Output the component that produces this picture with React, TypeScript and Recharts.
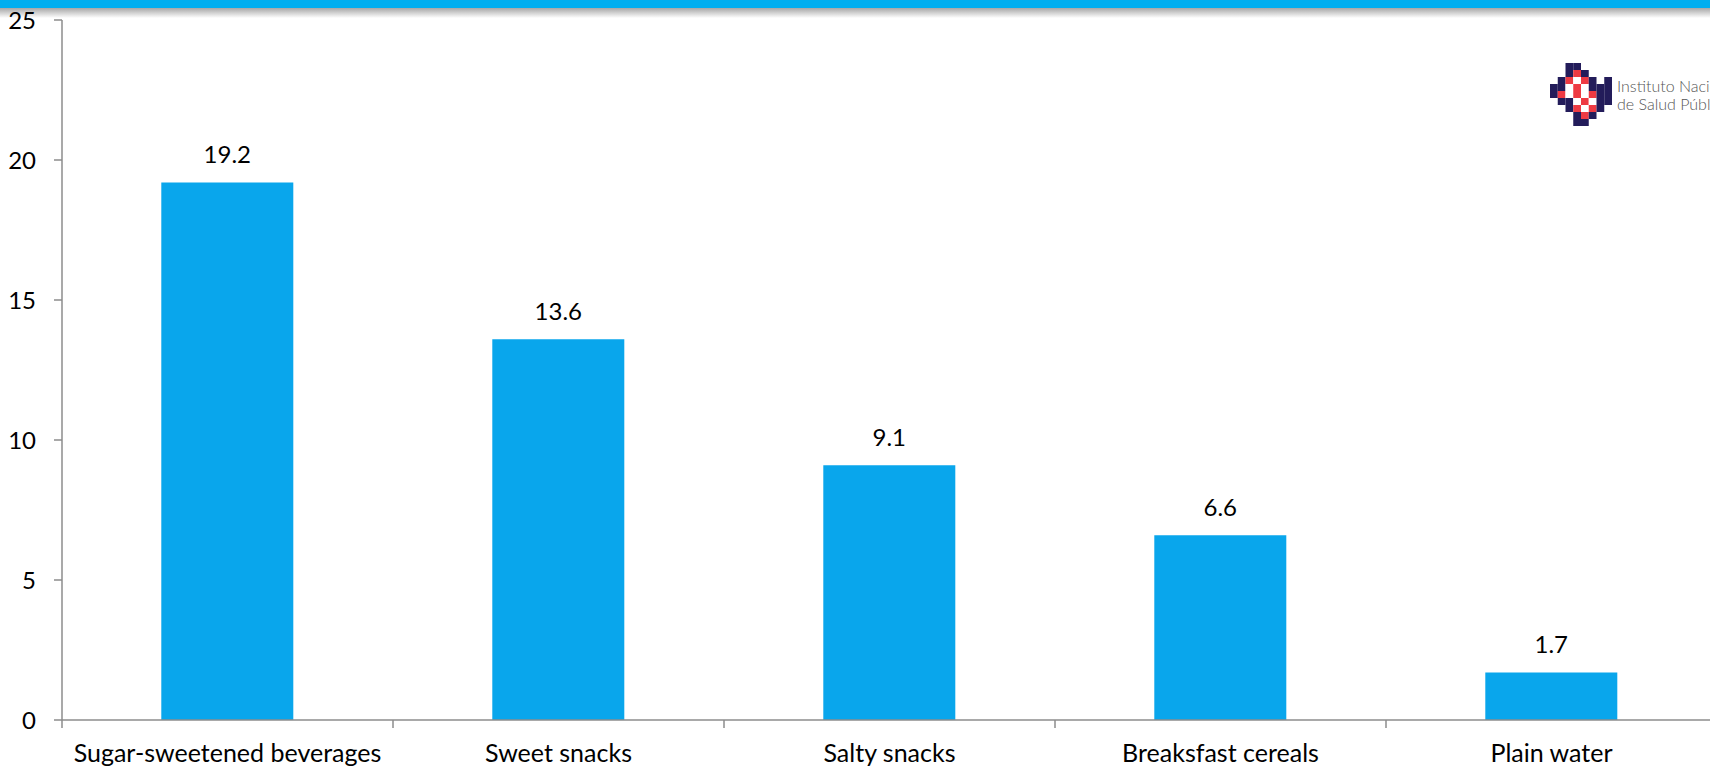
import { BarChart, Bar, XAxis, YAxis, LabelList } from 'recharts';

const categories = ['Sugar-sweetened beverages', 'Sweet snacks', 'Salty snacks', 'Breaksfast cereals', 'Plain water'];
const values = [19.2, 13.6, 9.1, 6.6, 1.7];
const yTicks = [0, 5, 10, 15, 20, 25];

const data = categories.map((name, i) => ({ name, value: values[i] }));

const CHART_W = 1717;
const CHART_H = 766;
const Y_W = 62;
const BAND = (CHART_W - Y_W) / categories.length;
const FONT = 'Lato, "Open Sans", sans-serif';
const AXIS_GRAY = '#8c8c8c';

const CategoryTick = (props: any) => {
  const { x, y, payload } = props;
  const left = x - BAND / 2;
  return (
    <g>
      <line x1={left} y1={y} x2={left} y2={y + 8} stroke={AXIS_GRAY} strokeWidth={1.5} />
      <text x={x} y={y + 42} textAnchor="middle" fill="#000" fontSize={25} fontFamily={FONT}>
        {payload.value}
      </text>
    </g>
  );
};

// rough pixel logo: N navy, R red, W white
const logoRows = [
  '..NN....',
  '..NRN...',
  '.NRWRN.N',
  'NNWRWNNN',
  'NRWRWRNN',
  '.NNWRWNN',
  '..NRWRN.',
  '...NRN..',
  '...NN...',
];
const logoColors: Record<string, string> = { N: '#231c5a', R: '#ee3a43', W: '#ffffff' };

const Logo = () => (
  <div style={{ position: 'absolute', left: 1550, top: 63, display: 'flex', alignItems: 'center' }}>
    <svg width={62} height={63}>
      {logoRows.map((row, r) =>
        row.split('').map((c, col) =>
          c === '.' ? null : (
            <rect key={`${r}-${col}`} x={col * 7.75} y={r * 7} width={7.75} height={7} fill={logoColors[c]} />
          )
        )
      )}
    </svg>
    <div style={{ marginLeft: 5, fontFamily: FONT, fontSize: 16, lineHeight: '18px', fontWeight: 300, color: '#555', whiteSpace: 'nowrap' }}>
      <div>Instituto Nacional</div>
      <div>de Salud Pública</div>
    </div>
  </div>
);

export default function App() {
  return (
    <div style={{ position: 'fixed', left: 0, top: 0, width: 1710, height: 766, overflow: 'hidden', background: '#fff' }}>
      <div style={{ position: 'absolute', left: 0, top: 0, width: 1710, height: 8, background: '#00aeef' }} />
      <div
        style={{
          position: 'absolute',
          left: 0,
          top: 8,
          width: 1710,
          height: 10,
          background: 'linear-gradient(#a6a6a6, rgba(255,255,255,0))',
        }}
      />
      <div style={{ position: 'absolute', left: 0, top: 0 }}>
        <BarChart
          width={CHART_W}
          height={CHART_H}
          data={data}
          margin={{ top: 20, right: 0, bottom: 0, left: 0 }}
          barCategoryGap="30%"
        >
          <XAxis
            dataKey="name"
            height={46}
            tickLine={false}
            tickSize={0}
            tickMargin={0}
            axisLine={{ stroke: AXIS_GRAY, strokeWidth: 1.5 }}
            tick={<CategoryTick />}
            interval={0}
          />
          <YAxis
            width={Y_W}
            domain={[0, 25]}
            ticks={yTicks}
            tickSize={8}
            tickMargin={18}
            axisLine={{ stroke: AXIS_GRAY, strokeWidth: 1.5 }}
            tickLine={{ stroke: AXIS_GRAY, strokeWidth: 1.5 }}
            tick={{ fill: '#000', fontSize: 24, fontFamily: FONT }}
          />
          <Bar dataKey="value" fill="#09a6ec" isAnimationActive={false}>
            <LabelList
              dataKey="value"
              position="top"
              offset={19}
              fill="#000"
              fontSize={24}
              fontFamily={FONT}
              formatter={(v: any) => Number(v).toFixed(1)}
            />
          </Bar>
        </BarChart>
      </div>
      <Logo />
    </div>
  );
}
